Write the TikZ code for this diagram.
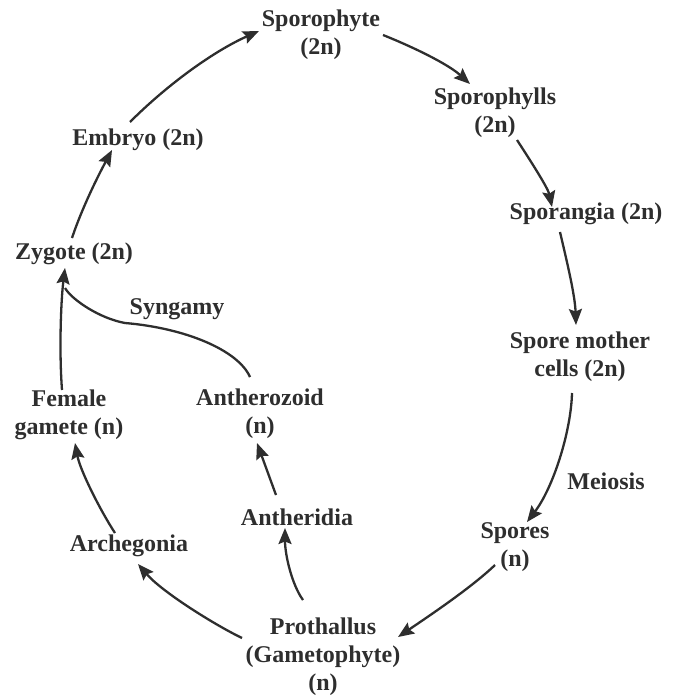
\documentclass[tikz,border=0pt]{standalone}
\usepackage{fontspec}
\setmainfont{Liberation Serif}
\usetikzlibrary{arrows.meta}
\definecolor{ink}{HTML}{2E2E2E}
\begin{document}
\begin{tikzpicture}[x=1pt,y=-1pt,
  lbl/.style={inner sep=0pt,align=center,text=ink,
    font=\fontsize{24}{28}\selectfont\bfseries},
  flow/.style={draw=ink,line width=2.3pt,
    -{Stealth[length=16pt,width=13pt,inset=2.5pt]}},
  fuseline/.style={draw=ink,line width=2.3pt}]
\useasboundingbox (0,0) rectangle (680,696);

% stages of the life cycle
\node[lbl] (sp)   at (321,35)  {Sporophyte\\(2n)};
\node[lbl] (spl)  at (495,113) {Sporophylls\\(2n)};
\node[lbl] (emb)  at (138,140) {Embryo (2n)};
\node[lbl] (sgia) at (586,214) {Sporangia (2n)};
\node[lbl] (zyg)  at (74,254)  {Zygote (2n)};
\node[lbl] (syn)  at (177,309) {Syngamy};
\node[lbl] (smc)  at (580,357) {Spore mother\\cells (2n)};
\node[lbl] (fem)  at (69,415)  {Female\\gamete (n)};
\node[lbl] (anz)  at (260,414) {Antherozoid\\(n)};
\node[lbl] (mei)  at (606,481) {Meiosis};
\node[lbl] (anth) at (297,517) {Antheridia};
\node[lbl] (arch) at (129,546) {Archegonia};
\node[lbl] (spo)  at (515,547) {Spores\\(n)};
\node[lbl] (pro)  at (323,657) {Prothallus\\(Gametophyte)\\(n)};

% sporophytic phase
\draw[flow] ([shift={(-2,-16)}]zyg.center) .. controls (82,208) and (98,176) .. ([shift={(-26,10)}]emb.center);
\draw[flow] ([shift={(-8,-18)}]emb.center) .. controls (168,84) and (214,51) .. ([shift={(-62,-4)}]sp.center);
\draw[flow] ([shift={(62,0)}]sp.center) .. controls (413,47) and (448,64) .. ([shift={(-25,-29)}]spl.center);
\draw[flow] ([shift={(22,27)}]spl.center) .. controls (530,160) and (548,188) .. ([shift={(-34,-7)}]sgia.center);
\draw[flow] ([shift={(-26,18)}]sgia.center) .. controls (567,262) and (575,295) .. ([shift={(-4,-32)}]smc.center);
\draw[flow] ([shift={(-8,36)}]smc.center) .. controls (571,432) and (553,488) .. ([shift={(12,-25)}]spo.center);
\draw[flow] ([shift={(-20,18)}]spo.center) .. controls (472,587) and (432,614) .. ([shift={(75,-20)}]pro.center);

% gametophytic phase
\draw[flow] ([shift={(-81,-19)}]pro.center) .. controls (215,625) and (162,592) .. ([shift={(9,18)}]arch.center);
\draw[flow] ([shift={(-20,-57)}]pro.center) .. controls (292,585) and (285,555) .. ([shift={(-12,11)}]anth.center);
\draw[flow] ([shift={(-21,-22)}]anth.center) -- ([shift={(-3,29)}]anz.center);
\draw[flow] ([shift={(-14,-13)}]arch.center) .. controls (100,510) and (80,470) .. ([shift={(6,28)}]fem.center);
\draw[flow] ([shift={(-7,-25)}]fem.center) .. controls (59,350) and (61,300) .. ([shift={(-9,14)}]zyg.center);

% syngamy: antherozoid joins the egg
\draw[fuseline] ([shift={(-10,-37)}]anz.center) .. controls (238,350) and (185,328) .. (125,323)
  .. controls (100,318.5) and (72,300) .. ([shift={(-9,34)}]zyg.center);
\end{tikzpicture}
\end{document}
